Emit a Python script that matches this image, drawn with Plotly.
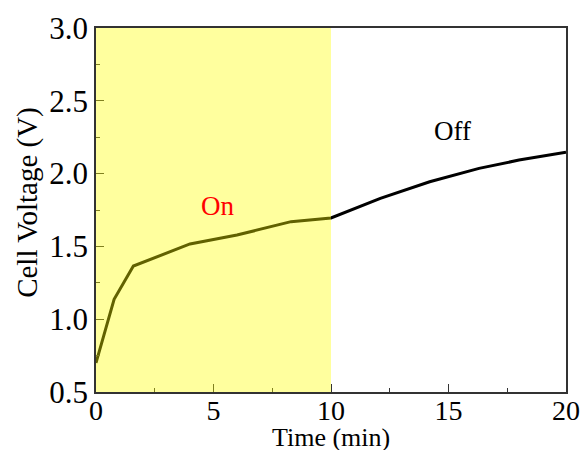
import plotly.graph_objects as go

# Cell voltage during a 10-min "on" period followed by 10-min "off" period
time_min = [0.0, 0.77, 1.59, 4.0, 6.0, 7.1, 8.3, 10.0,
            12.1, 14.2, 16.3, 18.0, 20.0]
voltage = [0.70, 1.137, 1.365, 1.517, 1.578, 1.624, 1.670, 1.695,
           1.830, 1.944, 2.036, 2.093, 2.146]

on_start, on_end = 0, 10

x_ticks = [0, 5, 10, 15, 20]
y_ticks = [0.5, 1.0, 1.5, 2.0, 2.5, 3.0]

serif = "Liberation Serif, Times New Roman, serif"

fig = go.Figure()
fig.add_trace(go.Scatter(
    x=time_min, y=voltage, mode="lines",
    line=dict(color="black", width=3),
    showlegend=False,
))

# Highlight of the "on" period, drawn over the trace and axis line
fig.add_shape(
    type="rect", xref="x", yref="y",
    x0=on_start, x1=on_end, y0=0.5, y1=3.0,
    fillcolor="#ffff00", opacity=0.38, line=dict(width=0),
    layer="above",
)

fig.add_annotation(x=5.15, y=1.78, text="On", showarrow=False,
                   font=dict(family=serif, size=27, color="#ff0000"))
fig.add_annotation(x=15.15, y=2.29, text="Off", showarrow=False,
                   font=dict(family=serif, size=27, color="black"))

# Axis titles placed as paper-referenced annotations
fig.add_annotation(xref="paper", yref="paper", x=0.5, y=-0.125,
                   xanchor="center", yanchor="middle",
                   text="Time (min)", showarrow=False,
                   font=dict(family=serif, size=26, color="black"))
fig.add_annotation(xref="paper", yref="paper", x=-0.145, y=0.522,
                   xanchor="center", yanchor="middle", textangle=-90,
                   text="Cell Voltage (V)", showarrow=False,
                   font=dict(family=serif, size=29, color="black"))

axis_common = dict(
    showline=True, mirror=True, linecolor="#333333", linewidth=1.5,
    ticks="inside", ticklen=8, tickwidth=1.2, tickcolor="#333333",
    showgrid=False, zeroline=False, automargin=False,
)

fig.update_xaxes(
    range=[0, 20], tickvals=x_ticks, ticklabelstandoff=-7,
    tickfont=dict(family=serif, size=28, color="black"),
    minor=dict(dtick=2.5, ticks="inside", ticklen=4, tickcolor="#333333"),
    **axis_common,
)
fig.update_yaxes(
    range=[0.5, 3.0], tickvals=y_ticks, tickformat=".1f",
    tickfont=dict(family=serif, size=31, color="black"),
    minor=dict(dtick=0.25, ticks="inside", ticklen=4, tickcolor="#333333"),
    **axis_common,
)

fig.update_layout(
    width=585, height=450,
    margin=dict(l=96, r=19, t=28, b=58),
    plot_bgcolor="white", paper_bgcolor="white",
)

fig.write_html("out.html")
